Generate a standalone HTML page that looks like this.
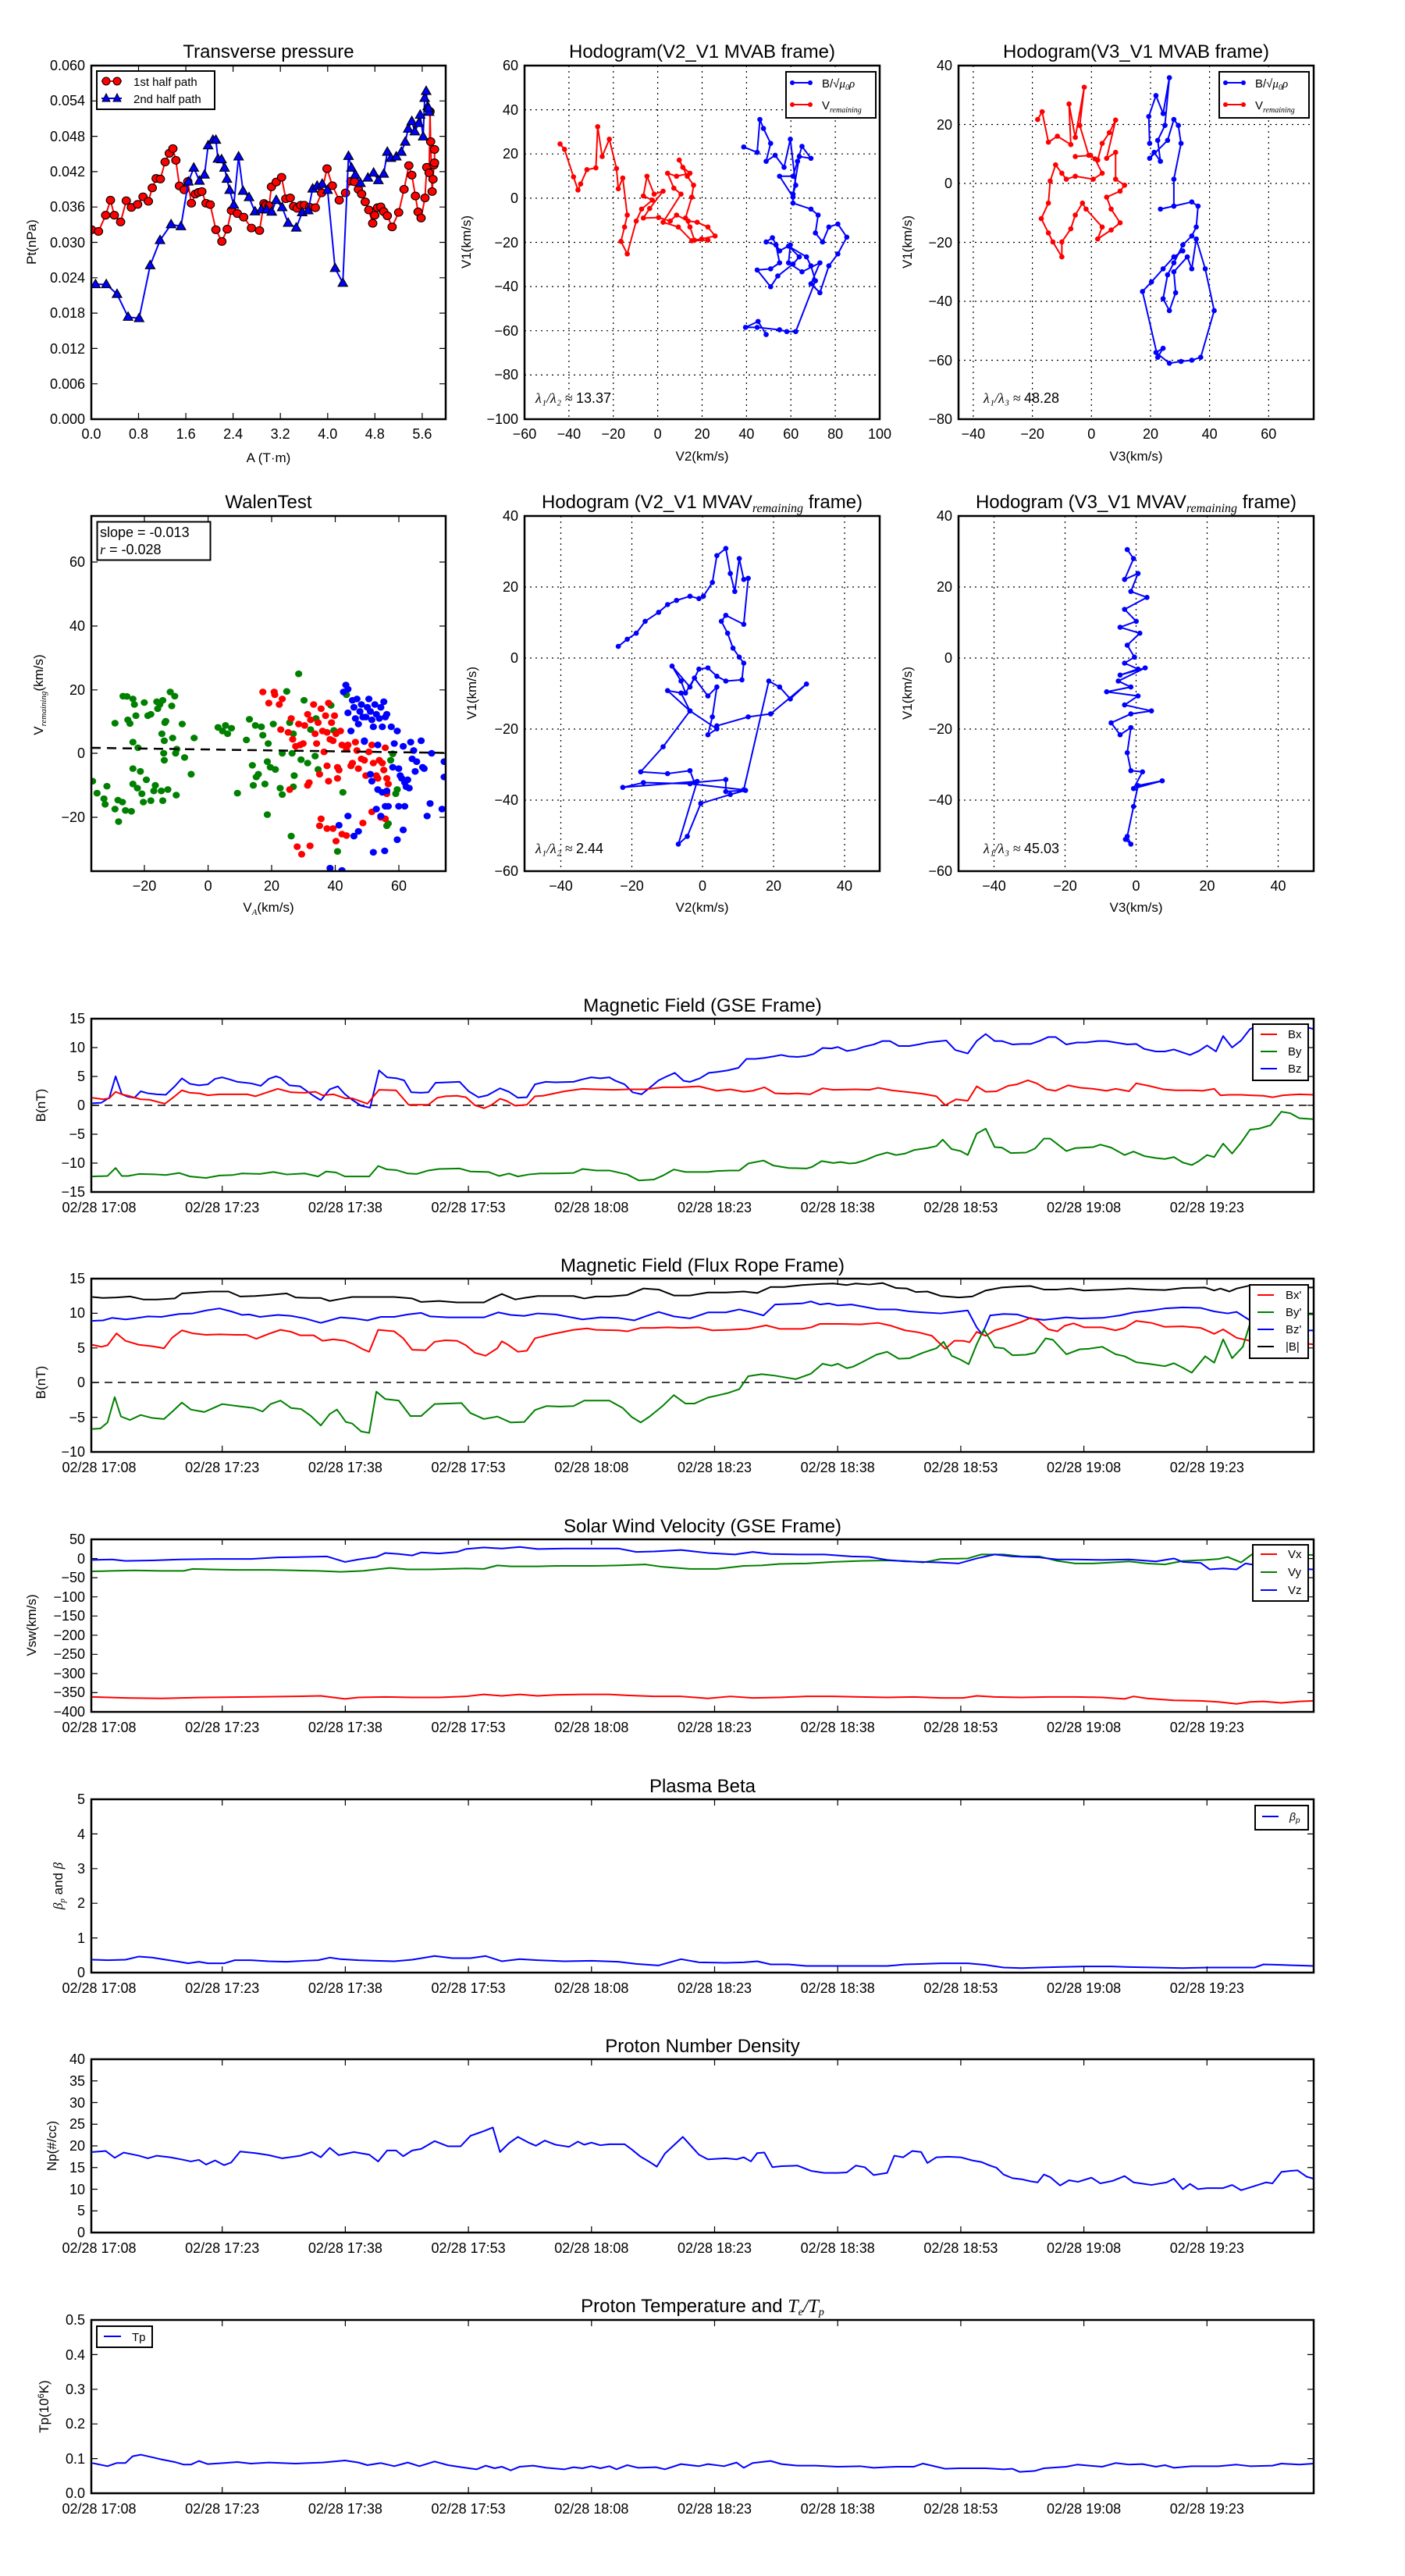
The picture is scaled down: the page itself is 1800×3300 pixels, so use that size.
<!DOCTYPE html>
<html><head><meta charset="utf-8"><style>
html,body{margin:0;padding:0;background:#fff}
svg{display:block}
text{font-family:"Liberation Sans",sans-serif;fill:#000}
.t{font-size:24px;text-anchor:middle}
.k{font-size:18px}
.r{text-anchor:end}
.m{text-anchor:middle}
.lb{font-size:17px;text-anchor:middle}
.ts{font-size:18px;text-anchor:middle}
.ax{fill:none;stroke:#000;stroke-width:2.5}
.tk{stroke:#000;stroke-width:1.2;fill:none}
.gr{stroke:#000;stroke-width:1.2;stroke-dasharray:2,5;fill:none}
.ln{fill:none;stroke-width:2;vector-effect:non-scaling-stroke;stroke-linejoin:round}
.lam{font-size:18px}
.lam .s{font-family:"Liberation Serif",serif;font-style:italic}
</style></head><body>
<svg width="1800" height="3300" viewBox="0 0 1800 3300" xmlns="http://www.w3.org/2000/svg">
<defs>
<clipPath id="c1"><rect x="117" y="84" width="454" height="453"/></clipPath>
<clipPath id="c2"><rect x="672" y="84" width="455" height="453"/></clipPath>
<clipPath id="c3"><rect x="1228" y="84" width="455" height="453"/></clipPath>
<clipPath id="c4"><rect x="117" y="661" width="454" height="455"/></clipPath>
<clipPath id="c5"><rect x="672" y="661" width="455" height="455"/></clipPath>
<clipPath id="c6"><rect x="1228" y="661" width="455" height="455"/></clipPath>
<clipPath id="cts"><rect x="117" y="1300" width="1566" height="1900"/></clipPath>
<marker id="mc" markerUnits="userSpaceOnUse" markerWidth="40" markerHeight="40" refX="20" refY="20" viewBox="0 0 40 40"><circle cx="20" cy="20" r="14" fill="#f00" stroke="#000" stroke-width="3"/></marker>
<marker id="mt" markerUnits="userSpaceOnUse" markerWidth="44" markerHeight="44" refX="22" refY="24" viewBox="0 0 44 44"><polygon points="22,6 38,36 6,36" fill="#00f" stroke="#000" stroke-width="3"/></marker>
<marker id="dr" markerUnits="userSpaceOnUse" markerWidth="20" markerHeight="20" refX="10" refY="10" viewBox="0 0 20 20"><ellipse cx="10" cy="10" rx="2.9" ry="4.3" fill="#f00"/></marker>
<marker id="db" markerUnits="userSpaceOnUse" markerWidth="20" markerHeight="20" refX="10" refY="10" viewBox="0 0 20 20"><ellipse cx="10" cy="10" rx="2.9" ry="4.3" fill="#00f"/></marker>
</defs>
<rect width="1800" height="3300" fill="#fff"/>

<!-- ================= Panel 1 Transverse pressure ================= -->
<text class="t" x="344" y="74">Transverse pressure</text>
<g clip-path="url(#c1)"><g transform="translate(60,40) scale(0.38265,0.35714)">
<polyline class="ln" stroke="#f00" marker-start="url(#mc)" marker-mid="url(#mc)" marker-end="url(#mc)" points="150,712 173,718 197,660 213,606 226,660 247,684 266,608 283,632 304,621 322,594 340,610 353,562 366,528 380,530 396,469 410,438 422,421 432,463 444,555 460,569 472,539 484,617 497,584 508,578 519,575 533,617 547,622 566,712 586,754 604,710 618,643 638,654 659,667 685,706 712,715 727,618 733,624 744,626 752,558 768,541 786,524 800,601 815,598 826,628 838,635 850,624 862,624 880,631 899,633 920,580 938,493 956,554 979,606 1000,580 1018,538 1030,540 1043,567 1054,584 1066,612 1078,641 1091,689 1098,660 1107,633 1118,630 1128,647 1140,662 1156,702 1178,650 1196,567 1212,482 1222,516 1234,591 1243,648 1253,670 1266,598 1272,488 1280,508 1283,288 1285,396 1290,575 1293,531 1296,480 1298,472 1298,424"/>
<polyline class="ln" stroke="#00f" marker-start="url(#mt)" marker-mid="url(#mt)" marker-end="url(#mt)" points="163,908 199,908 235,943 272,1025 309,1030 346,840 379,750 416,693 449,700 474,540 492,490 511,537 528,515 540,410 556,390 566,390 573,458 585,460 595,490 603,530 612,570 626,623 642,450 657,573 677,596 697,647 718,640 736,640 753,648 768,606 788,632 808,688 835,705 855,650 875,643 890,565 905,555 922,548 940,570 965,850 991,903 1010,448 1020,490 1033,515 1050,545 1075,526 1094,508 1110,535 1128,512 1140,433 1152,455 1170,450 1187,433 1200,397 1210,350 1222,323 1232,360 1245,330 1250,300 1260,378 1265,240 1270,215 1275,270 1280,290 1278,276"/>
</g></g>
<rect class="ax" x="117" y="84" width="454" height="453"/>
<path class="tk" d="M177.5,537v-8M238.1,537v-8M298.6,537v-8M359.2,537v-8M419.8,537v-8M480.3,537v-8M540.9,537v-8M177.5,84v8M238.1,84v8M298.6,84v8M359.2,84v8M419.8,84v8M480.3,84v8M540.9,84v8M117,129.3h8M117,174.6h8M117,219.9h8M117,265.2h8M117,310.5h8M117,355.8h8M117,401.1h8M117,446.4h8M117,491.7h8M571,129.3h-8M571,174.6h-8M571,219.9h-8M571,265.2h-8M571,310.5h-8M571,355.8h-8M571,401.1h-8M571,446.4h-8M571,491.7h-8"/>
<g class="k">
<text class="r" x="109" y="90">0.060</text><text class="r" x="109" y="135">0.054</text><text class="r" x="109" y="181">0.048</text><text class="r" x="109" y="226">0.042</text><text class="r" x="109" y="271">0.036</text><text class="r" x="109" y="317">0.030</text><text class="r" x="109" y="362">0.024</text><text class="r" x="109" y="407">0.018</text><text class="r" x="109" y="453">0.012</text><text class="r" x="109" y="498">0.006</text><text class="r" x="109" y="543">0.000</text>
<text class="m" x="117" y="562">0.0</text><text class="m" x="177.5" y="562">0.8</text><text class="m" x="238.1" y="562">1.6</text><text class="m" x="298.6" y="562">2.4</text><text class="m" x="359.2" y="562">3.2</text><text class="m" x="419.8" y="562">4.0</text><text class="m" x="480.3" y="562">4.8</text><text class="m" x="540.9" y="562">5.6</text>
</g>
<text class="lb" x="344" y="592">A (T·m)</text>
<text class="lb" transform="translate(46,310) rotate(-90)">Pt(nPa)</text>
<rect x="124" y="91" width="151" height="49" fill="#fff" stroke="#000" stroke-width="2"/>
<line x1="130" y1="104" x2="156" y2="104" stroke="#f00" stroke-width="2"/>
<circle cx="136" cy="104" r="5" fill="#f00" stroke="#000"/><circle cx="150" cy="104" r="5" fill="#f00" stroke="#000"/>
<line x1="130" y1="126" x2="156" y2="126" stroke="#00f" stroke-width="2"/>
<polygon points="136,120 141,130 131,130" fill="#00f" stroke="#000"/><polygon points="150,120 155,130 145,130" fill="#00f" stroke="#000"/>
<text x="171" y="110" font-size="15">1st half path</text><text x="171" y="132" font-size="15">2nd half path</text>

<!-- ================= Panel 2 ================= -->
<text class="t" x="899.5" y="74">Hodogram(V2_V1 MVAB frame)</text>
<path class="gr" d="M728.9,84V537M785.75,84V537M842.6,84V537M899.5,84V537M956.4,84V537M1013.25,84V537M1070.1,84V537M672,140.6H1127M672,197.2H1127M672,253.9H1127M672,310.5H1127M672,367.1H1127M672,423.7H1127M672,480.4H1127"/>
<g clip-path="url(#c2)"><g transform="scale(1.148,0.7653)">
<polyline class="ln" stroke="#f00" marker-start="url(#dr)" marker-mid="url(#dr)" marker-end="url(#dr)" points="625,241 630,250 640,296 645,318 648,308 655,284 665,281 667,212 672,262 680,233 688,282 690,316 695,298 700,360 697,380 693,404 700,425 710,370 716,350 728,335 718,328 722,295 730,325 740,320 725,349 718,365 735,364 748,370 755,360 768,370 778,372 790,380 798,395 783,400 775,402 770,380 765,365 772,330 774,310 767,295 758,268 762,280 770,290 755,295 745,290 752,315 760,325 740,372 757,380 772,403 790,402"/>
<polyline class="ln" stroke="#00f" marker-start="url(#db)" marker-mid="url(#db)" marker-end="url(#db)" points="830,246 845,255 848,200 852,215 860,240 855,270 865,260 875,280 882,233 888,310 885,325 892,262 905,265 895,245 890,270 885,295 870,295 885,330 885,340 905,350 913,360 910,390 918,405 925,380 935,375 945,397 935,425 925,445 915,490 905,475 915,440 895,455 880,440 882,410 870,420 862,398 855,405 866,410 870,440 860,450 845,452 860,480 868,462 885,442 892,430 880,412 900,430 905,445 910,470 888,555 878,555 870,552 845,548 832,548 846,538 855,560"/>
</g></g>
<rect class="ax" x="672" y="84" width="455" height="453"/>
<g class="k">
<text class="r" x="664" y="90">60</text><text class="r" x="664" y="147">40</text><text class="r" x="664" y="203">20</text><text class="r" x="664" y="260">0</text><text class="r" x="664" y="317">−20</text><text class="r" x="664" y="373">−40</text><text class="r" x="664" y="430">−60</text><text class="r" x="664" y="486">−80</text><text class="r" x="664" y="543">−100</text>
<text class="m" x="672" y="562">−60</text><text class="m" x="728.9" y="562">−40</text><text class="m" x="785.75" y="562">−20</text><text class="m" x="842.6" y="562">0</text><text class="m" x="899.5" y="562">20</text><text class="m" x="956.4" y="562">40</text><text class="m" x="1013.25" y="562">60</text><text class="m" x="1070.1" y="562">80</text><text class="m" x="1127" y="562">100</text>
</g>
<text class="lb" x="899.5" y="590">V2(km/s)</text>
<text class="lb" transform="translate(603,310) rotate(-90)">V1(km/s)</text>
<text class="lam" x="686" y="516"><tspan class="s">λ₁/λ₂ ≈ </tspan>13.37</text>
<rect x="1007" y="92" width="115" height="59" fill="#fff" stroke="#000" stroke-width="2"/>
<line x1="1014" y1="106" x2="1039" y2="106" stroke="#00f" stroke-width="2"/><circle cx="1015" cy="106" r="3" fill="#00f"/><circle cx="1038" cy="106" r="3" fill="#00f"/>
<line x1="1014" y1="134" x2="1039" y2="134" stroke="#f00" stroke-width="2"/><circle cx="1015" cy="134" r="3" fill="#f00"/><circle cx="1038" cy="134" r="3" fill="#f00"/>
<text x="1053" y="112" font-size="15">B/√<tspan font-style="italic" font-family="Liberation Serif">μ<tspan font-size="10" dy="3">0</tspan><tspan dy="-3">ρ</tspan></tspan></text>
<text x="1053" y="140" font-size="15">V<tspan font-size="10" dy="4" font-style="italic" font-family="Liberation Serif">remaining</tspan></text>

<!-- ================= Panel 3 ================= -->
<text class="t" x="1455.5" y="74">Hodogram(V3_V1 MVAB frame)</text>
<path class="gr" d="M1246.9,84V537M1322.6,84V537M1398.3,84V537M1474,84V537M1549.6,84V537M1625.3,84V537M1228,159.5H1683M1228,235H1683M1228,310.5H1683M1228,386H1683M1228,461.5H1683"/>
<g clip-path="url(#c3)"><g transform="scale(1.148,0.7653)">
<polyline class="ln" stroke="#f00" marker-start="url(#dr)" marker-mid="url(#dr)" marker-end="url(#dr)" points="1158,200 1163,187 1170,238 1180,228 1195,242 1193,174 1200,230 1210,146 1205,210 1215,260 1225,268 1230,240 1238,222 1245,201 1235,265 1245,255 1245,300 1255,310 1250,320 1235,330 1240,350 1250,373 1240,385 1225,400 1230,380 1212,350 1208,340 1200,360 1195,383 1185,405 1185,430 1175,405 1170,390 1162,366 1170,340 1172,303 1178,276 1185,290 1190,300 1200,295 1220,300 1230,290 1222,266 1217,260 1200,262"/>
<polyline class="ln" stroke="#00f" marker-start="url(#db)" marker-mid="url(#db)" marker-end="url(#db)" points="1283,240 1282,195 1290,160 1298,190 1305,130 1300,210 1292,235 1295,270 1288,255 1283,265 1303,235 1310,200 1315,210 1318,240 1310,300 1310,345 1295,350 1310,345 1330,338 1337,345 1335,380 1330,395 1320,410 1310,440 1303,460 1298,500 1305,520 1312,490 1310,455 1325,430 1330,450 1335,400 1345,450 1355,520 1340,598 1330,603 1318,605 1305,608 1290,590 1298,583 1292,598 1275,488 1285,472 1298,450 1310,430 1320,420"/>
</g></g>
<rect class="ax" x="1228" y="84" width="455" height="453"/>
<g class="k">
<text class="r" x="1220" y="90">40</text><text class="r" x="1220" y="166">20</text><text class="r" x="1220" y="241">0</text><text class="r" x="1220" y="317">−20</text><text class="r" x="1220" y="392">−40</text><text class="r" x="1220" y="468">−60</text><text class="r" x="1220" y="543">−80</text>
<text class="m" x="1246.9" y="562">−40</text><text class="m" x="1322.6" y="562">−20</text><text class="m" x="1398.3" y="562">0</text><text class="m" x="1474" y="562">20</text><text class="m" x="1549.6" y="562">40</text><text class="m" x="1625.3" y="562">60</text>
</g>
<text class="lb" x="1455.5" y="590">V3(km/s)</text>
<text class="lb" transform="translate(1168,310) rotate(-90)">V1(km/s)</text>
<text class="lam" x="1260" y="516"><tspan class="s">λ₁/λ₃ ≈ </tspan>48.28</text>
<rect x="1562" y="92" width="115" height="59" fill="#fff" stroke="#000" stroke-width="2"/>
<line x1="1569" y1="106" x2="1594" y2="106" stroke="#00f" stroke-width="2"/><circle cx="1570" cy="106" r="3" fill="#00f"/><circle cx="1593" cy="106" r="3" fill="#00f"/>
<line x1="1569" y1="134" x2="1594" y2="134" stroke="#f00" stroke-width="2"/><circle cx="1570" cy="134" r="3" fill="#f00"/><circle cx="1593" cy="134" r="3" fill="#f00"/>
<text x="1608" y="112" font-size="15">B/√<tspan font-style="italic" font-family="Liberation Serif">μ<tspan font-size="10" dy="3">0</tspan><tspan dy="-3">ρ</tspan></tspan></text>
<text x="1608" y="140" font-size="15">V<tspan font-size="10" dy="4" font-style="italic" font-family="Liberation Serif">remaining</tspan></text>

<!-- ================= Walen ================= -->
<text class="t" x="344" y="651">WalenTest</text>
<g clip-path="url(#c4)"><g transform="translate(0,640) scale(0.38265,0.35714)">
<g fill="#008000">
<circle r="12" cx="310" cy="1010"/><circle r="12" cx="325" cy="1053"/><circle r="12" cx="348" cy="1073"/><circle r="12" cx="352" cy="1093"/><circle r="12" cx="358" cy="1028"/><circle r="12" cx="385" cy="802"/><circle r="12" cx="385" cy="1110"/><circle r="12" cx="395" cy="1078"/><circle r="12" cx="397" cy="1155"/><circle r="12" cx="410" cy="1085"/><circle r="12" cx="412" cy="705"/><circle r="12" cx="425" cy="706"/><circle r="12" cx="428" cy="790"/><circle r="12" cx="435" cy="803"/><circle r="12" cx="420" cy="1115"/><circle r="12" cx="440" cy="1118"/><circle r="12" cx="445" cy="715"/><circle r="12" cx="445" cy="870"/><circle r="12" cx="445" cy="965"/><circle r="12" cx="450" cy="735"/><circle r="12" cx="455" cy="775"/><circle r="12" cx="462" cy="890"/><circle r="12" cx="470" cy="975"/><circle r="12" cx="445" cy="1020"/><circle r="12" cx="460" cy="1035"/><circle r="12" cx="475" cy="1055"/><circle r="12" cx="480" cy="1085"/><circle r="12" cx="483" cy="728"/><circle r="12" cx="490" cy="1005"/><circle r="12" cx="495" cy="775"/><circle r="12" cx="505" cy="770"/><circle r="12" cx="505" cy="1080"/><circle r="12" cx="515" cy="1045"/><circle r="12" cx="520" cy="1025"/><circle r="12" cx="525" cy="725"/><circle r="12" cx="528" cy="750"/><circle r="12" cx="535" cy="735"/><circle r="12" cx="540" cy="1045"/><circle r="12" cx="542" cy="840"/><circle r="12" cx="545" cy="1080"/><circle r="12" cx="545" cy="720"/><circle r="12" cx="548" cy="910"/><circle r="12" cx="550" cy="865"/><circle r="12" cx="552" cy="800"/><circle r="12" cx="555" cy="795"/><circle r="12" cx="550" cy="935"/><circle r="12" cx="562" cy="1040"/><circle r="12" cx="570" cy="690"/><circle r="12" cx="575" cy="740"/><circle r="12" cx="578" cy="855"/><circle r="12" cx="585" cy="705"/><circle r="12" cx="588" cy="910"/><circle r="12" cx="592" cy="895"/><circle r="12" cx="590" cy="1060"/><circle r="12" cx="610" cy="805"/><circle r="12" cx="618" cy="925"/><circle r="12" cx="640" cy="985"/><circle r="12" cx="650" cy="855"/><circle r="12" cx="730" cy="817"/><circle r="12" cx="745" cy="830"/><circle r="12" cx="755" cy="810"/><circle r="12" cx="762" cy="840"/><circle r="12" cx="775" cy="820"/><circle r="12" cx="795" cy="1053"/><circle r="12" cx="825" cy="862"/><circle r="12" cx="835" cy="788"/><circle r="12" cx="845" cy="953"/><circle r="12" cx="848" cy="1025"/><circle r="12" cx="855" cy="810"/><circle r="12" cx="858" cy="995"/><circle r="12" cx="865" cy="985"/><circle r="12" cx="875" cy="815"/><circle r="12" cx="880" cy="845"/><circle r="12" cx="887" cy="1020"/><circle r="12" cx="895" cy="940"/><circle r="12" cx="898" cy="875"/><circle r="12" cx="895" cy="1130"/><circle r="12" cx="905" cy="960"/><circle r="12" cx="915" cy="805"/><circle r="12" cx="922" cy="968"/><circle r="12" cx="938" cy="1035"/><circle r="12" cx="945" cy="910"/><circle r="12" cx="945" cy="1058"/><circle r="12" cx="960" cy="688"/><circle r="12" cx="970" cy="800"/><circle r="12" cx="975" cy="1207"/><circle r="12" cx="978" cy="910"/><circle r="12" cx="982" cy="1030"/><circle r="12" cx="985" cy="990"/><circle r="12" cx="982" cy="840"/><circle r="12" cx="1000" cy="625"/><circle r="12" cx="1008" cy="933"/><circle r="12" cx="1018" cy="720"/><circle r="12" cx="1030" cy="945"/><circle r="12" cx="1040" cy="825"/><circle r="12" cx="1055" cy="920"/><circle r="12" cx="1058" cy="785"/><circle r="12" cx="1065" cy="968"/><circle r="12" cx="1108" cy="738"/><circle r="12" cx="1118" cy="828"/><circle r="12" cx="1130" cy="1262"/><circle r="12" cx="1148" cy="1050"/><circle r="12" cx="1160" cy="700"/><circle r="12" cx="1300" cy="1162"/><circle r="12" cx="1295" cy="1170"/><circle r="12" cx="1325" cy="1055"/><circle r="12" cx="1315" cy="912"/><circle r="12" cx="1308" cy="935"/><circle r="12" cx="1330" cy="1040"/>
</g>
<g fill="#f00">
<circle r="12" cx="880" cy="690"/><circle r="12" cx="918" cy="690"/><circle r="12" cx="920" cy="700"/><circle r="12" cx="900" cy="730"/><circle r="12" cx="935" cy="735"/><circle r="12" cx="945" cy="715"/><circle r="12" cx="940" cy="825"/><circle r="12" cx="965" cy="835"/><circle r="12" cx="970" cy="1040"/><circle r="12" cx="975" cy="785"/><circle r="12" cx="980" cy="860"/><circle r="12" cx="990" cy="885"/><circle r="12" cx="1000" cy="805"/><circle r="12" cx="1005" cy="880"/><circle r="12" cx="1015" cy="875"/><circle r="12" cx="1020" cy="810"/><circle r="12" cx="1030" cy="770"/><circle r="12" cx="1030" cy="1025"/><circle r="12" cx="1035" cy="1015"/><circle r="12" cx="1040" cy="790"/><circle r="12" cx="1050" cy="735"/><circle r="12" cx="1055" cy="840"/><circle r="12" cx="1060" cy="875"/><circle r="12" cx="1065" cy="800"/><circle r="12" cx="1070" cy="985"/><circle r="12" cx="1075" cy="750"/><circle r="12" cx="1080" cy="830"/><circle r="12" cx="1085" cy="905"/><circle r="12" cx="1090" cy="775"/><circle r="12" cx="1095" cy="835"/><circle r="12" cx="1100" cy="730"/><circle r="12" cx="1095" cy="955"/><circle r="12" cx="1100" cy="1010"/><circle r="12" cx="1105" cy="860"/><circle r="12" cx="1110" cy="800"/><circle r="12" cx="1115" cy="865"/><circle r="12" cx="1120" cy="775"/><circle r="12" cx="1125" cy="840"/><circle r="12" cx="1130" cy="1000"/><circle r="12" cx="1130" cy="960"/><circle r="12" cx="1135" cy="970"/><circle r="12" cx="1140" cy="830"/><circle r="12" cx="1145" cy="880"/><circle r="12" cx="1160" cy="895"/><circle r="12" cx="1165" cy="880"/><circle r="12" cx="1175" cy="955"/><circle r="12" cx="1180" cy="945"/><circle r="12" cx="1190" cy="870"/><circle r="12" cx="1195" cy="900"/><circle r="12" cx="1200" cy="965"/><circle r="12" cx="1210" cy="930"/><circle r="12" cx="1215" cy="1160"/><circle r="12" cx="1220" cy="935"/><circle r="12" cx="1225" cy="990"/><circle r="12" cx="1235" cy="905"/><circle r="12" cx="1245" cy="880"/><circle r="12" cx="1250" cy="945"/><circle r="12" cx="1260" cy="990"/><circle r="12" cx="1265" cy="1000"/><circle r="12" cx="1270" cy="935"/><circle r="12" cx="1280" cy="945"/><circle r="12" cx="1285" cy="970"/><circle r="12" cx="1290" cy="890"/><circle r="12" cx="1295" cy="1000"/><circle r="12" cx="1300" cy="1020"/><circle r="12" cx="1295" cy="1055"/><circle r="12" cx="1075" cy="1145"/><circle r="12" cx="1070" cy="1170"/><circle r="12" cx="1095" cy="1180"/><circle r="12" cx="1115" cy="1180"/><circle r="12" cx="1125" cy="1225"/><circle r="12" cx="1145" cy="1200"/><circle r="12" cx="1160" cy="1205"/><circle r="12" cx="995" cy="1245"/><circle r="12" cx="1010" cy="1272"/><circle r="12" cx="1038" cy="1242"/><circle r="12" cx="1245" cy="1120"/><circle r="12" cx="1275" cy="1140"/><circle r="12" cx="1290" cy="1145"/>
</g>
<g fill="#00f">
<circle r="12" cx="1105" cy="1322"/><circle r="12" cx="1145" cy="1330"/><circle r="12" cx="1158" cy="665"/><circle r="12" cx="1165" cy="680"/><circle r="12" cx="1150" cy="690"/><circle r="12" cx="1165" cy="765"/><circle r="12" cx="1175" cy="830"/><circle r="12" cx="1180" cy="720"/><circle r="12" cx="1185" cy="745"/><circle r="12" cx="1190" cy="785"/><circle r="12" cx="1195" cy="715"/><circle r="12" cx="1200" cy="805"/><circle r="12" cx="1205" cy="760"/><circle r="12" cx="1210" cy="735"/><circle r="12" cx="1215" cy="780"/><circle r="12" cx="1220" cy="865"/><circle r="12" cx="1225" cy="780"/><circle r="12" cx="1230" cy="745"/><circle r="12" cx="1235" cy="715"/><circle r="12" cx="1240" cy="760"/><circle r="12" cx="1245" cy="790"/><circle r="12" cx="1250" cy="815"/><circle r="12" cx="1255" cy="735"/><circle r="12" cx="1260" cy="770"/><circle r="12" cx="1265" cy="880"/><circle r="12" cx="1270" cy="785"/><circle r="12" cx="1275" cy="745"/><circle r="12" cx="1280" cy="815"/><circle r="12" cx="1285" cy="725"/><circle r="12" cx="1290" cy="780"/><circle r="12" cx="1295" cy="770"/><circle r="12" cx="1310" cy="815"/><circle r="12" cx="1315" cy="960"/><circle r="12" cx="1320" cy="875"/><circle r="12" cx="1330" cy="830"/><circle r="12" cx="1335" cy="965"/><circle r="12" cx="1340" cy="990"/><circle r="12" cx="1345" cy="1000"/><circle r="12" cx="1350" cy="885"/><circle r="12" cx="1355" cy="1015"/><circle r="12" cx="1360" cy="1030"/><circle r="12" cx="1365" cy="1005"/><circle r="12" cx="1370" cy="1035"/><circle r="12" cx="1375" cy="870"/><circle r="12" cx="1380" cy="930"/><circle r="12" cx="1385" cy="900"/><circle r="12" cx="1390" cy="975"/><circle r="12" cx="1395" cy="940"/><circle r="12" cx="1410" cy="865"/><circle r="12" cx="1415" cy="960"/><circle r="12" cx="1420" cy="965"/><circle r="12" cx="1430" cy="1135"/><circle r="12" cx="1440" cy="1090"/><circle r="12" cx="1445" cy="910"/><circle r="12" cx="1480" cy="1110"/><circle r="12" cx="1487" cy="940"/><circle r="12" cx="1487" cy="995"/><circle r="12" cx="1240" cy="985"/><circle r="12" cx="1245" cy="1010"/><circle r="12" cx="1260" cy="1110"/><circle r="12" cx="1265" cy="1040"/><circle r="12" cx="1275" cy="1135"/><circle r="12" cx="1280" cy="1050"/><circle r="12" cx="1290" cy="1100"/><circle r="12" cx="1295" cy="1045"/><circle r="12" cx="1300" cy="1100"/><circle r="12" cx="1330" cy="1220"/><circle r="12" cx="1335" cy="1100"/><circle r="12" cx="1350" cy="1185"/><circle r="12" cx="1355" cy="1100"/><circle r="12" cx="1250" cy="1265"/><circle r="12" cx="1288" cy="1260"/><circle r="12" cx="1185" cy="1207"/><circle r="12" cx="1200" cy="1190"/><circle r="12" cx="1165" cy="1135"/><circle r="12" cx="1135" cy="1168"/><circle r="12" cx="1220" cy="868"/>
</g>
</g></g>
<line x1="117" y1="958" x2="571" y2="964.5" stroke="#000" stroke-width="2.5" stroke-dasharray="12,8"/>
<rect class="ax" x="117" y="661" width="454" height="455"/>
<path class="tk" d="M185,1116v-8M266.6,1116v-8M348,1116v-8M429.5,1116v-8M511,1116v-8M185,661v8M266.6,661v8M348,661v8M429.5,661v8M511,661v8M117,720h8M117,802h8M117,883.8h8M117,965h8M117,1047h8M571,720h-8M571,802h-8M571,883.8h-8M571,965h-8M571,1047h-8"/>
<g class="k">
<text class="r" x="109" y="726">60</text><text class="r" x="109" y="808">40</text><text class="r" x="109" y="890">20</text><text class="r" x="109" y="971">0</text><text class="r" x="109" y="1053">−20</text>
<text class="m" x="185" y="1141">−20</text><text class="m" x="266.6" y="1141">0</text><text class="m" x="348" y="1141">20</text><text class="m" x="429.5" y="1141">40</text><text class="m" x="511" y="1141">60</text>
</g>
<text class="lb" x="344" y="1168">V<tspan font-size="11" dy="4" font-style="italic" font-family="Liberation Serif">A</tspan><tspan dy="-4">(km/s)</tspan></text>
<text class="lb" transform="translate(55,890) rotate(-90)">V<tspan font-size="11" dy="4" font-style="italic" font-family="Liberation Serif">remaining</tspan><tspan dy="-4">(km/s)</tspan></text>
<rect x="124.5" y="668.5" width="145" height="49" fill="#fff" stroke="#000" stroke-width="2"/>
<text x="128" y="688" font-size="18">slope = -0.013</text>
<text x="128" y="710" font-size="18"><tspan font-style="italic" font-family="Liberation Serif">r</tspan> = -0.028</text>

<!-- ================= Row2 Panel2 ================= -->
<text class="t" x="899.5" y="651">Hodogram (V2_V1 MVAV<tspan font-size="16" dy="5" font-style="italic" font-family="Liberation Serif">remaining</tspan><tspan dy="-5"> frame)</tspan></text>
<path class="gr" d="M718.5,661V1116M809.5,661V1116M900,661V1116M991,661V1116M1082,661V1116M672,752H1127M672,843H1127M672,934H1127M672,1025H1127"/>
<g clip-path="url(#c5)"><g transform="scale(1.148,0.7653)">
<polyline class="ln" stroke="#00f" marker-start="url(#db)" marker-mid="url(#db)" marker-end="url(#db)" points="690,1082 700,1070 710,1060 720,1040 735,1025 745,1012 755,1005 770,998 780,1002 785,998 795,975 800,930 810,918 815,960 820,990 825,935 830,970 835,968 830,1045 810,1030 805,1040 812,1060 818,1085 825,1100 830,1110 828,1138 810,1140 800,1132 790,1118 780,1120 770,1150 750,1115 760,1140 765,1160 775,1135 790,1165 800,1150 795,1200 790,1230 800,1220 770,1190 745,1156 760,1160 770,1190 740,1250 715,1292 745,1295 770,1290 775,1310 810,1305 810,1325 832,1323 815,1330 782,1345 767,1400 757,1413 778,1308 695,1318 718,1310 770,1312 830,1322 858,1140 870,1150 882,1170 900,1145 860,1195 835,1200 800,1215"/>
</g></g>
<rect class="ax" x="672" y="661" width="455" height="455"/>
<g class="k">
<text class="r" x="664" y="667">40</text><text class="r" x="664" y="758">20</text><text class="r" x="664" y="849">0</text><text class="r" x="664" y="940">−20</text><text class="r" x="664" y="1031">−40</text><text class="r" x="664" y="1122">−60</text>
<text class="m" x="718.5" y="1141">−40</text><text class="m" x="809.5" y="1141">−20</text><text class="m" x="900" y="1141">0</text><text class="m" x="991" y="1141">20</text><text class="m" x="1082" y="1141">40</text>
</g>
<text class="lb" x="899.5" y="1168">V2(km/s)</text>
<text class="lb" transform="translate(610,888) rotate(-90)">V1(km/s)</text>
<text class="lam" x="686" y="1093"><tspan class="s">λ₁/λ₂ ≈ </tspan>2.44</text>

<!-- ================= Row2 Panel3 ================= -->
<text class="t" x="1455.5" y="651">Hodogram (V3_V1 MVAV<tspan font-size="16" dy="5" font-style="italic" font-family="Liberation Serif">remaining</tspan><tspan dy="-5"> frame)</tspan></text>
<path class="gr" d="M1273.5,661V1116M1364.5,661V1116M1455.5,661V1116M1546.5,661V1116M1637.5,661V1116M1228,752H1683M1228,843H1683M1228,934H1683M1228,1025H1683"/>
<g clip-path="url(#c6)"><g transform="scale(1.148,0.7653)">
<polyline class="ln" stroke="#00f" marker-start="url(#db)" marker-mid="url(#db)" marker-end="url(#db)" points="1258,920 1265,935 1255,970 1270,960 1262,990 1280,1000 1255,1020 1268,1040 1250,1050 1272,1060 1258,1080 1266,1100 1255,1110 1270,1120 1250,1130 1278,1118 1248,1140 1262,1150 1235,1158 1270,1165 1255,1180 1285,1190 1262,1195 1240,1210 1250,1230 1262,1218 1258,1260 1262,1290 1275,1292 1265,1320 1297,1307 1270,1315 1265,1350 1258,1400 1262,1413 1256,1405"/>
</g></g>
<rect class="ax" x="1228" y="661" width="455" height="455"/>
<g class="k">
<text class="r" x="1220" y="667">40</text><text class="r" x="1220" y="758">20</text><text class="r" x="1220" y="849">0</text><text class="r" x="1220" y="940">−20</text><text class="r" x="1220" y="1031">−40</text><text class="r" x="1220" y="1122">−60</text>
<text class="m" x="1273.5" y="1141">−40</text><text class="m" x="1364.5" y="1141">−20</text><text class="m" x="1455.5" y="1141">0</text><text class="m" x="1546.5" y="1141">20</text><text class="m" x="1637.5" y="1141">40</text>
</g>
<text class="lb" x="1455.5" y="1168">V3(km/s)</text>
<text class="lb" transform="translate(1168,888) rotate(-90)">V1(km/s)</text>
<text class="lam" x="1260" y="1093"><tspan class="s">λ₁/λ₃ ≈ </tspan>45.03</text>

<!-- ================= TIME SERIES ================= -->
<defs>
<path id="xtk" class="tk" d="M284.7,222v-8M442.4,222v-8M600.1,222v-8M757.8,222v-8M915.5,222v-8M1073.2,222v-8M1230.9,222v-8M1388.6,222v-8M1546.3,222v-8M284.7,0v8M442.4,0v8M600.1,0v8M757.8,0v8M915.5,0v8M1073.2,0v8M1230.9,0v8M1388.6,0v8M1546.3,0v8"/>
</defs>

<!-- GSE -->
<text class="t" x="900" y="1296">Magnetic Field (GSE Frame)</text>
<line x1="117" y1="1416" x2="1683" y2="1416" stroke="#000" stroke-width="1.5" stroke-dasharray="10,7"/>
<g clip-path="url(#cts)"><g transform="translate(0,1250) scale(1.148,0.638)">
<polyline class="ln" stroke="#00f" points="103,256 113,255 122,245 129,202 136,238 143,243 150,245 157,232 165,236 175,238 185,239 195,222 203,206 212,217 222,220 232,218 240,207 248,204 256,208 265,213 280,216 291,221 300,207 308,202 313,205 323,220 335,222 349,240 358,250 368,228 377,222 385,238 393,249 403,261 413,265 423,190 432,204 443,206 451,210 459,234 470,235 478,234 486,215 513,213 523,232 534,244 544,240 558,226 568,233 578,245 588,244 597,218 609,213 620,214 640,213 650,208 660,204 670,206 680,204 687,211 697,218 706,234 716,238 725,225 735,210 743,203 753,195 763,211 770,213 781,206 791,195 801,193 812,190 824,185 833,167 843,167 853,165 863,162 872,159 880,162 890,163 900,161 908,157 918,145 928,146 935,143 945,151 955,148 965,142 975,138 985,131 993,131 1003,141 1015,141 1025,138 1035,134 1045,132 1056,130 1066,149 1080,156 1090,131 1100,117 1110,131 1118,131 1130,138 1140,137 1150,137 1160,131 1170,123 1178,123 1190,138 1202,134 1212,134 1225,131 1235,131 1245,134 1258,138 1268,137 1277,147 1290,152 1300,152 1310,148 1318,153 1328,159 1338,151 1347,140 1357,152 1365,121 1375,144 1385,130 1395,107 1405,100 1420,99 1435,100 1455,102 1466,107"/>
<polyline class="ln" stroke="#f00" points="103,245 115,248 122,246 129,233 136,238 143,241 157,248 167,249 184,257 195,242 203,230 212,235 222,236 232,240 245,238 260,238 276,238 285,242 295,236 310,227 325,234 340,235 352,233 360,240 372,238 385,246 393,246 410,257 423,229 442,230 456,259 478,259 488,245 497,242 510,241 520,244 530,260 540,266 548,260 558,247 565,251 575,261 588,259 597,242 606,241 630,232 650,227 665,228 685,229 700,228 720,228 740,224 760,224 780,222 800,231 815,228 830,233 840,231 853,224 865,236 880,237 890,236 904,238 918,226 930,229 955,228 970,229 980,225 995,230 1015,234 1030,237 1045,242 1055,260 1067,248 1080,251 1090,222 1100,233 1112,232 1125,221 1135,218 1147,210 1157,216 1168,228 1178,231 1192,220 1206,225 1220,227 1235,231 1245,227 1260,232 1268,216 1282,221 1298,228 1312,230 1330,230 1342,231 1355,227 1362,240 1372,239 1385,239 1395,240 1410,241 1420,244 1432,240 1450,238 1466,239"/>
<polyline class="ln" stroke="#008000" points="103,403 120,402 129,386 136,402 143,402 155,398 175,399 185,400 200,396 212,403 230,406 245,401 260,400 270,397 290,398 305,394 320,399 340,397 355,403 364,393 375,395 385,403 412,403 422,382 432,389 442,390 455,397 465,398 478,391 490,388 513,387 525,393 545,394 557,402 568,397 578,403 590,399 603,397 620,397 640,396 650,388 665,391 680,391 700,399 713,411 730,409 740,401 752,389 765,394 790,394 800,392 815,391 825,391 835,377 852,371 863,381 880,386 900,387 906,384 917,372 930,376 938,374 948,377 955,376 966,370 978,361 990,355 1000,360 1010,357 1020,350 1035,346 1045,342 1052,329 1062,348 1072,352 1080,360 1090,317 1100,307 1110,344 1118,345 1128,356 1145,355 1155,347 1165,327 1172,327 1190,352 1200,346 1220,344 1228,339 1240,345 1255,360 1265,353 1277,362 1290,366 1300,368 1310,364 1320,375 1330,380 1338,372 1347,360 1355,364 1365,337 1375,357 1385,335 1395,309 1405,307 1418,300 1430,273 1440,276 1450,286 1466,288"/>
</g></g>
<rect class="ax" x="117" y="1305" width="1566" height="222"/>
<use href="#xtk" transform="translate(0,1305)"/>
<path class="tk" d="M117,1342h8M117,1379h8M117,1416h8M117,1453h8M117,1490h8M1683,1342h-8M1683,1379h-8M1683,1416h-8M1683,1453h-8M1683,1490h-8"/>
<g class="k">
<text class="r" x="109" y="1311">15</text><text class="r" x="109" y="1348">10</text><text class="r" x="109" y="1385">5</text><text class="r" x="109" y="1422">0</text><text class="r" x="109" y="1459">−5</text><text class="r" x="109" y="1496">−10</text><text class="r" x="109" y="1533">−15</text>
</g>
<g class="ts"><text x="127" y="1553">02/28 17:08</text><text x="284.7" y="1553">02/28 17:23</text><text x="442.4" y="1553">02/28 17:38</text><text x="600.1" y="1553">02/28 17:53</text><text x="757.8" y="1553">02/28 18:08</text><text x="915.5" y="1553">02/28 18:23</text><text x="1073.2" y="1553">02/28 18:38</text><text x="1230.9" y="1553">02/28 18:53</text><text x="1388.6" y="1553">02/28 19:08</text><text x="1546.3" y="1553">02/28 19:23</text></g>
<text class="lb" transform="translate(58,1416) rotate(-90)">B(nT)</text>
<rect x="1605" y="1312" width="71" height="72" fill="#fff" stroke="#000" stroke-width="2"/>
<line x1="1615" y1="1325" x2="1636" y2="1325" stroke="#f00" stroke-width="2"/><line x1="1615" y1="1347" x2="1636" y2="1347" stroke="#008000" stroke-width="2"/><line x1="1615" y1="1369" x2="1636" y2="1369" stroke="#00f" stroke-width="2"/>
<text x="1650" y="1330" font-size="15">Bx</text><text x="1650" y="1352" font-size="15">By</text><text x="1650" y="1374" font-size="15">Bz</text>

<!-- Flux rope -->
<text class="t" x="900" y="1629">Magnetic Field (Flux Rope Frame)</text>
<line x1="117" y1="1771" x2="1683" y2="1771" stroke="#000" stroke-width="1.5" stroke-dasharray="10,7"/>
<g clip-path="url(#cts)"><g transform="translate(0,1250) scale(1.148,0.638)">
<polyline class="ln" stroke="#000" points="103,645 115,647 130,646 145,644 160,650 175,650 195,648 203,638 220,636 235,634 255,634 268,644 285,643 300,641 313,639 320,638 330,646 345,647 358,647 368,653 380,649 393,645 410,645 440,645 460,648 470,655 490,653 510,656 540,656 550,647 560,639 575,650 585,647 600,643 615,643 640,643 652,648 665,644 680,644 700,641 718,628 735,630 752,642 770,642 790,636 810,636 830,634 845,637 860,625 875,625 895,621 915,619 930,618 945,621 955,618 970,620 985,617 1000,627 1012,628 1022,635 1035,634 1050,643 1070,646 1085,644 1100,632 1118,626 1135,624 1150,623 1165,630 1180,630 1195,628 1210,632 1240,630 1260,628 1280,630 1300,631 1320,627 1345,626 1355,632 1362,628 1372,634 1380,628 1395,622 1410,622 1430,626 1466,626"/>
<polyline class="ln" stroke="#00f" points="103,693 115,692 125,687 140,690 150,688 165,684 180,685 200,679 215,678 230,672 245,668 258,674 270,681 278,680 290,685 310,681 325,683 340,688 358,697 368,692 380,686 395,688 410,692 425,685 440,685 455,680 470,677 480,684 500,686 520,686 540,686 556,676 570,681 585,683 600,678 620,680 650,690 670,686 690,687 708,692 720,684 735,675 752,684 770,688 790,676 810,676 825,670 840,676 852,682 865,660 880,659 895,658 905,654 915,660 925,658 935,662 950,660 965,665 980,670 1000,670 1015,674 1030,676 1050,678 1066,675 1080,672 1090,706 1096,720 1105,682 1120,679 1135,680 1150,688 1165,691 1180,688 1190,686 1205,688 1230,687 1250,682 1265,676 1285,672 1300,668 1320,666 1340,667 1355,674 1370,678 1380,675 1395,692 1410,710 1430,714 1466,712"/>
<polyline class="ln" stroke="#f00" points="103,741 113,745 120,742 130,718 140,733 155,741 170,744 183,748 192,727 203,712 215,718 230,721 245,720 262,721 275,721 286,729 300,719 313,711 325,715 335,722 350,722 360,733 372,730 385,733 395,740 405,750 412,755 422,711 440,714 450,728 460,751 475,752 485,735 497,732 510,733 520,742 530,757 542,763 555,748 560,734 567,741 578,755 588,753 597,728 615,720 640,711 655,708 665,711 690,712 700,714 715,707 730,707 745,706 760,707 780,706 795,712 815,711 835,709 855,702 870,709 895,709 905,706 915,699 940,699 960,700 980,697 995,703 1010,712 1025,716 1040,723 1055,749 1065,733 1075,733 1082,736 1090,715 1100,723 1110,712 1125,704 1140,695 1150,687 1158,692 1170,710 1180,714 1188,703 1198,698 1210,706 1230,706 1245,712 1255,707 1268,693 1285,697 1300,705 1320,704 1340,707 1355,719 1365,710 1380,727 1395,733 1410,737 1430,734 1450,738 1466,740"/>
<polyline class="ln" stroke="#008000" points="103,910 112,909 120,897 128,846 135,885 145,892 157,882 170,888 183,890 193,874 203,857 213,871 228,876 238,868 248,860 265,864 283,868 293,875 302,860 313,853 325,868 336,870 347,884 358,903 368,880 376,871 386,896 393,899 403,915 412,918 420,835 430,850 445,853 458,884 470,884 485,860 515,858 525,878 540,890 555,885 570,897 585,896 597,872 610,864 625,865 640,864 652,853 665,853 680,853 695,868 705,886 715,897 725,885 740,863 752,842 765,859 775,859 790,847 800,843 812,838 825,830 835,804 850,800 865,803 888,810 905,799 918,779 928,783 935,779 945,788 952,785 962,776 978,761 990,755 1003,769 1015,768 1030,757 1045,748 1053,735 1062,763 1072,771 1081,780 1090,740 1098,710 1110,746 1120,748 1130,762 1145,761 1155,757 1167,728 1175,731 1190,760 1205,750 1215,749 1230,745 1245,760 1255,764 1268,776 1285,780 1300,784 1310,778 1320,787 1330,797 1345,764 1355,777 1365,730 1375,768 1387,745 1395,698 1410,695 1430,680 1450,679 1466,680"/>
</g></g>
<rect class="ax" x="117" y="1638" width="1566" height="222"/>
<use href="#xtk" transform="translate(0,1638)"/>
<path class="tk" d="M117,1682.4h8M117,1726.8h8M117,1771.2h8M117,1815.6h8M1683,1682.4h-8M1683,1726.8h-8M1683,1771.2h-8M1683,1815.6h-8"/>
<g class="k">
<text class="r" x="109" y="1644">15</text><text class="r" x="109" y="1688">10</text><text class="r" x="109" y="1733">5</text><text class="r" x="109" y="1777">0</text><text class="r" x="109" y="1822">−5</text><text class="r" x="109" y="1866">−10</text>
</g>
<g class="ts"><text x="127" y="1886">02/28 17:08</text><text x="284.7" y="1886">02/28 17:23</text><text x="442.4" y="1886">02/28 17:38</text><text x="600.1" y="1886">02/28 17:53</text><text x="757.8" y="1886">02/28 18:08</text><text x="915.5" y="1886">02/28 18:23</text><text x="1073.2" y="1886">02/28 18:38</text><text x="1230.9" y="1886">02/28 18:53</text><text x="1388.6" y="1886">02/28 19:08</text><text x="1546.3" y="1886">02/28 19:23</text></g>
<text class="lb" transform="translate(58,1771) rotate(-90)">B(nT)</text>
<rect x="1601" y="1646" width="75" height="94" fill="#fff" stroke="#000" stroke-width="2"/>
<line x1="1611" y1="1659" x2="1632" y2="1659" stroke="#f00" stroke-width="2"/><line x1="1611" y1="1681" x2="1632" y2="1681" stroke="#008000" stroke-width="2"/><line x1="1611" y1="1703" x2="1632" y2="1703" stroke="#00f" stroke-width="2"/><line x1="1611" y1="1725" x2="1632" y2="1725" stroke="#000" stroke-width="2"/>
<text x="1647" y="1664" font-size="15">Bx'</text><text x="1647" y="1686" font-size="15">By'</text><text x="1647" y="1708" font-size="15">Bz'</text><text x="1647" y="1730" font-size="15">|B|</text>

<!-- Vsw -->
<text class="t" x="900" y="1963">Solar Wind Velocity (GSE Frame)</text>
<g clip-path="url(#cts)"><g transform="translate(0,1250) scale(1.148,0.638)">
<polyline class="ln" stroke="#f00" points="103,1448 140,1450 180,1451 230,1449 280,1448 330,1447 358,1446 385,1452 400,1449 430,1448 460,1449 490,1449 520,1447 540,1443 560,1446 580,1443 600,1446 620,1444 650,1443 680,1443 700,1445 730,1447 760,1447 790,1451 815,1447 840,1450 870,1449 900,1447 930,1447 960,1448 990,1449 1020,1448 1050,1450 1075,1450 1090,1446 1110,1448 1140,1449 1170,1448 1200,1448 1230,1449 1255,1452 1265,1447 1280,1451 1310,1455 1340,1456 1360,1458 1380,1462 1395,1458 1410,1457 1430,1460 1450,1457 1466,1456"/>
<polyline class="ln" stroke="#008000" points="103,1196 125,1195 150,1194 180,1195 205,1195 215,1191 235,1192 265,1193 300,1193 330,1194 355,1195 380,1197 405,1195 420,1192 435,1189 455,1192 480,1192 500,1191 520,1190 540,1191 555,1184 570,1186 600,1186 620,1185 660,1185 690,1184 720,1182 740,1187 770,1191 800,1191 830,1185 850,1184 870,1181 900,1180 930,1177 960,1175 990,1174 1010,1175 1030,1178 1050,1171 1080,1170 1095,1162 1120,1162 1140,1166 1160,1166 1180,1175 1200,1180 1220,1180 1240,1178 1260,1176 1280,1180 1300,1182 1320,1175 1345,1173 1360,1171 1370,1167 1385,1178 1397,1162 1410,1161 1430,1162 1466,1163"/>
<polyline class="ln" stroke="#00f" points="103,1173 125,1172 140,1175 170,1174 200,1172 240,1171 280,1171 310,1168 340,1167 365,1166 385,1177 400,1172 420,1167 430,1159 445,1161 460,1164 470,1158 490,1160 510,1157 520,1151 540,1148 560,1150 580,1147 600,1151 630,1150 660,1150 690,1150 710,1157 730,1156 760,1153 790,1159 820,1162 840,1157 860,1161 890,1162 920,1162 950,1166 970,1167 990,1173 1010,1176 1030,1177 1050,1178 1070,1180 1090,1170 1110,1162 1130,1166 1160,1168 1180,1172 1200,1172 1230,1173 1260,1172 1290,1176 1310,1170 1320,1177 1340,1179 1350,1192 1365,1190 1380,1192 1390,1180 1400,1183 1410,1183 1430,1190 1466,1192"/>
</g></g>
<rect class="ax" x="117" y="1972" width="1566" height="221"/>
<use href="#xtk" transform="translate(0,1971)"/>
<path class="tk" d="M117,1996.6h8M117,2021.1h8M117,2045.7h8M117,2070.2h8M117,2094.8h8M117,2119.3h8M117,2143.9h8M117,2168.4h8M1683,1996.6h-8M1683,2021.1h-8M1683,2045.7h-8M1683,2070.2h-8M1683,2094.8h-8M1683,2119.3h-8M1683,2143.9h-8M1683,2168.4h-8"/>
<g class="k">
<text class="r" x="109" y="1978">50</text><text class="r" x="109" y="2003">0</text><text class="r" x="109" y="2027">−50</text><text class="r" x="109" y="2052">−100</text><text class="r" x="109" y="2076">−150</text><text class="r" x="109" y="2101">−200</text><text class="r" x="109" y="2125">−250</text><text class="r" x="109" y="2150">−300</text><text class="r" x="109" y="2174">−350</text><text class="r" x="109" y="2199">−400</text>
</g>
<g class="ts"><text x="127" y="2219">02/28 17:08</text><text x="284.7" y="2219">02/28 17:23</text><text x="442.4" y="2219">02/28 17:38</text><text x="600.1" y="2219">02/28 17:53</text><text x="757.8" y="2219">02/28 18:08</text><text x="915.5" y="2219">02/28 18:23</text><text x="1073.2" y="2219">02/28 18:38</text><text x="1230.9" y="2219">02/28 18:53</text><text x="1388.6" y="2219">02/28 19:08</text><text x="1546.3" y="2219">02/28 19:23</text></g>
<text class="lb" transform="translate(46,2082) rotate(-90)">Vsw(km/s)</text>
<rect x="1605" y="1979" width="71" height="72" fill="#fff" stroke="#000" stroke-width="2"/>
<line x1="1615" y1="1991" x2="1636" y2="1991" stroke="#f00" stroke-width="2"/><line x1="1615" y1="2014" x2="1636" y2="2014" stroke="#008000" stroke-width="2"/><line x1="1615" y1="2037" x2="1636" y2="2037" stroke="#00f" stroke-width="2"/>
<text x="1650" y="1996" font-size="15">Vx</text><text x="1650" y="2019" font-size="15">Vy</text><text x="1650" y="2042" font-size="15">Vz</text>

<!-- Beta -->
<text class="t" x="900" y="2296">Plasma Beta</text>
<g clip-path="url(#cts)"><g transform="translate(0,2250) scale(1.148,0.6696)">
<polyline class="ln" stroke="#00f" points="103,389 120,390 140,389 155,383 170,385 185,389 200,393 210,396 222,393 232,396 250,396 262,390 280,390 300,392 320,393 340,391 355,390 368,385 380,388 400,390 420,391 440,392 460,389 485,382 505,386 525,386 542,382 560,392 580,388 600,390 630,392 660,391 690,393 710,397 735,400 760,388 780,394 810,395 830,394 845,392 860,398 880,398 900,401 930,401 960,401 990,401 1010,398 1030,397 1050,396 1080,396 1100,399 1120,404 1140,405 1160,404 1180,403 1210,402 1240,402 1260,403 1290,404 1320,405 1350,404 1380,404 1400,404 1410,398 1430,399 1450,400 1466,401"/>
</g></g>
<rect class="ax" x="117" y="2305" width="1566" height="222"/>
<use href="#xtk" transform="translate(0,2305)"/>
<path class="tk" d="M117,2349.4h8M117,2393.8h8M117,2438.2h8M117,2482.6h8M1683,2349.4h-8M1683,2393.8h-8M1683,2438.2h-8M1683,2482.6h-8"/>
<g class="k">
<text class="r" x="109" y="2311">5</text><text class="r" x="109" y="2356">4</text><text class="r" x="109" y="2400">3</text><text class="r" x="109" y="2444">2</text><text class="r" x="109" y="2489">1</text><text class="r" x="109" y="2533">0</text>
</g>
<g class="ts"><text x="127" y="2553">02/28 17:08</text><text x="284.7" y="2553">02/28 17:23</text><text x="442.4" y="2553">02/28 17:38</text><text x="600.1" y="2553">02/28 17:53</text><text x="757.8" y="2553">02/28 18:08</text><text x="915.5" y="2553">02/28 18:23</text><text x="1073.2" y="2553">02/28 18:38</text><text x="1230.9" y="2553">02/28 18:53</text><text x="1388.6" y="2553">02/28 19:08</text><text x="1546.3" y="2553">02/28 19:23</text></g>
<text class="lb" transform="translate(80,2416) rotate(-90)"><tspan font-style="italic" font-family="Liberation Serif">β<tspan font-size="11" dy="3">p</tspan></tspan><tspan dy="-3"> and </tspan><tspan font-style="italic" font-family="Liberation Serif">β</tspan></text>
<rect x="1608" y="2313" width="68" height="31" fill="#fff" stroke="#000" stroke-width="2"/>
<line x1="1617" y1="2327" x2="1638" y2="2327" stroke="#00f" stroke-width="2"/>
<text x="1652" y="2332" font-size="14" font-style="italic" font-family="Liberation Serif">β<tspan font-size="10" dy="3">p</tspan></text>

<!-- Np -->
<text class="t" x="900" y="2629">Proton Number Density</text>
<g clip-path="url(#cts)"><g transform="translate(0,2250) scale(1.148,0.6696)">
<polyline class="ln" stroke="#00f" points="103,757 118,755 128,768 138,758 155,764 165,769 175,764 190,767 205,772 213,775 222,772 230,781 240,773 250,782 258,777 268,756 285,759 300,763 315,769 335,764 348,757 358,767 368,749 378,763 395,757 412,762 422,775 432,754 442,754 450,765 460,754 470,751 485,736 500,746 514,746 525,726 540,717 550,710 558,757 568,740 578,728 590,739 598,745 608,735 620,743 635,747 645,737 652,743 660,739 670,744 680,742 697,742 705,752 715,766 725,776 733,785 742,760 762,728 780,762 790,771 810,769 822,771 830,767 838,775 845,759 853,758 862,786 872,784 890,783 905,793 920,797 935,797 945,796 955,783 965,786 975,801 990,797 998,764 1008,767 1018,755 1028,757 1035,778 1045,767 1058,766 1072,767 1085,773 1095,776 1105,783 1112,787 1120,800 1130,807 1140,809 1150,813 1158,815 1165,800 1172,805 1183,821 1193,811 1203,814 1218,806 1228,817 1242,812 1255,803 1265,815 1285,820 1295,817 1302,815 1310,808 1320,828 1328,818 1337,828 1347,826 1365,826 1375,820 1385,830 1400,822 1413,815 1420,817 1430,795 1440,793 1448,792 1458,804 1466,808"/>
</g></g>
<rect class="ax" x="117" y="2638" width="1566" height="222"/>
<use href="#xtk" transform="translate(0,2638)"/>
<path class="tk" d="M117,2665.75h8M117,2693.5h8M117,2721.25h8M117,2749h8M117,2776.75h8M117,2804.5h8M117,2832.25h8M1683,2665.75h-8M1683,2693.5h-8M1683,2721.25h-8M1683,2749h-8M1683,2776.75h-8M1683,2804.5h-8M1683,2832.25h-8"/>
<g class="k">
<text class="r" x="109" y="2644">40</text><text class="r" x="109" y="2672">35</text><text class="r" x="109" y="2700">30</text><text class="r" x="109" y="2727">25</text><text class="r" x="109" y="2755">20</text><text class="r" x="109" y="2783">15</text><text class="r" x="109" y="2811">10</text><text class="r" x="109" y="2838">5</text><text class="r" x="109" y="2866">0</text>
</g>
<g class="ts"><text x="127" y="2886">02/28 17:08</text><text x="284.7" y="2886">02/28 17:23</text><text x="442.4" y="2886">02/28 17:38</text><text x="600.1" y="2886">02/28 17:53</text><text x="757.8" y="2886">02/28 18:08</text><text x="915.5" y="2886">02/28 18:23</text><text x="1073.2" y="2886">02/28 18:38</text><text x="1230.9" y="2886">02/28 18:53</text><text x="1388.6" y="2886">02/28 19:08</text><text x="1546.3" y="2886">02/28 19:23</text></g>
<text class="lb" transform="translate(72,2749) rotate(-90)">Np(#/cc)</text>

<!-- Tp -->
<text class="t" x="900" y="2962">Proton Temperature and <tspan font-style="italic" font-family="Liberation Serif">T<tspan font-size="14" dy="4">e</tspan><tspan dy="-4">/T</tspan><tspan font-size="14" dy="4">p</tspan></tspan></text>
<g clip-path="url(#cts)"><g transform="translate(0,2250) scale(1.148,0.6696)">
<polyline class="ln" stroke="#00f" points="103,1352 120,1358 130,1352 140,1352 148,1339 157,1336 170,1341 180,1345 195,1350 205,1355 213,1355 222,1348 232,1354 250,1352 265,1350 280,1353 300,1351 330,1353 345,1352 360,1351 385,1347 400,1351 410,1356 425,1352 440,1358 455,1351 468,1358 485,1349 500,1356 515,1360 532,1364 542,1357 552,1362 560,1359 570,1366 580,1359 595,1357 610,1361 630,1364 640,1360 650,1362 660,1358 670,1362 680,1358 688,1364 700,1356 712,1361 732,1360 742,1364 760,1354 780,1358 790,1354 808,1358 822,1351 830,1361 840,1352 860,1348 872,1354 890,1357 910,1357 935,1359 960,1358 975,1361 1000,1359 1020,1359 1030,1353 1040,1357 1055,1363 1070,1362 1100,1362 1120,1364 1130,1363 1138,1369 1155,1367 1165,1362 1190,1359 1202,1355 1230,1359 1245,1352 1260,1355 1275,1354 1290,1359 1300,1356 1310,1361 1330,1358 1345,1358 1360,1358 1380,1355 1395,1358 1420,1357 1430,1353 1450,1355 1466,1353"/>
</g></g>
<rect class="ax" x="117" y="2972" width="1566" height="222"/>
<use href="#xtk" transform="translate(0,2972)"/>
<path class="tk" d="M117,3016.4h8M117,3060.8h8M117,3105.2h8M117,3149.6h8M1683,3016.4h-8M1683,3060.8h-8M1683,3105.2h-8M1683,3149.6h-8"/>
<g class="k">
<text class="r" x="109" y="2978">0.5</text><text class="r" x="109" y="3023">0.4</text><text class="r" x="109" y="3067">0.3</text><text class="r" x="109" y="3111">0.2</text><text class="r" x="109" y="3156">0.1</text><text class="r" x="109" y="3200">0.0</text>
</g>
<g class="ts"><text x="127" y="3220">02/28 17:08</text><text x="284.7" y="3220">02/28 17:23</text><text x="442.4" y="3220">02/28 17:38</text><text x="600.1" y="3220">02/28 17:53</text><text x="757.8" y="3220">02/28 18:08</text><text x="915.5" y="3220">02/28 18:23</text><text x="1073.2" y="3220">02/28 18:38</text><text x="1230.9" y="3220">02/28 18:53</text><text x="1388.6" y="3220">02/28 19:08</text><text x="1546.3" y="3220">02/28 19:23</text></g>
<text class="lb" transform="translate(62,3083) rotate(-90)">Tp(10<tspan font-size="11" dy="-6">6</tspan><tspan dy="6">K)</tspan></text>
<rect x="124" y="2980" width="71" height="27" fill="#fff" stroke="#000" stroke-width="2"/>
<line x1="133" y1="2993" x2="155" y2="2993" stroke="#00f" stroke-width="2"/>
<text x="169" y="2999" font-size="15">Tp</text>
</svg>
</body></html>
